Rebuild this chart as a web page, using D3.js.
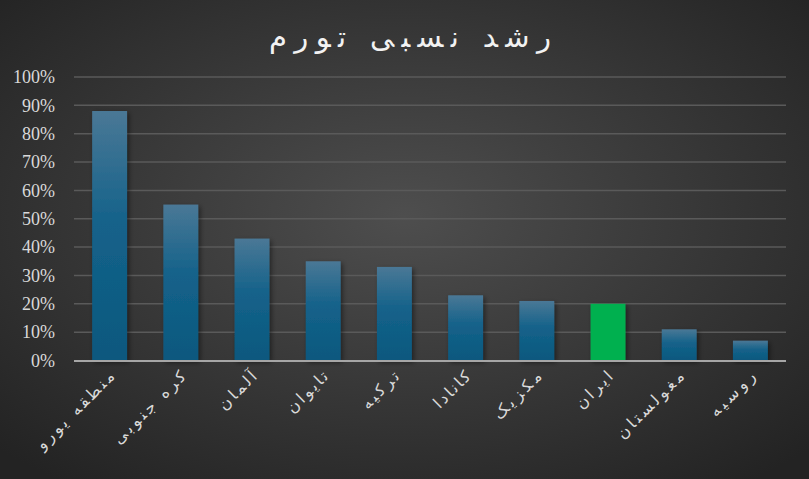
<!DOCTYPE html>
<html><head><meta charset="utf-8">
<script src="https://cdn.jsdelivr.net/npm/d3@7"></script>
<style>
html,body{margin:0;padding:0;background:#2a2a2a;}
svg{display:block;}
</style></head><body>
<svg id="c" width="809" height="479"></svg>
<script>
const categories = ["منطقه یورو","کره جنوبی","آلمان","تایوان","ترکیه","کانادا","مکزیک","ایران","مغولستان","روسیه"];
const values = [88, 55, 43, 35, 33, 23, 21, 20, 11, 7];
const highlight = ["ایران"];
const yTicks = [0,10,20,30,40,50,60,70,80,90,100];
const titleText = "رشد نسبی تورم";

const W = 809, H = 479;
const svg = d3.select("#c");
const defs = svg.append("defs");
const bg = defs.append("radialGradient").attr("id","bg").attr("cx","50%").attr("cy","45%").attr("r","70%");
bg.append("stop").attr("offset","0%").attr("stop-color","#4e4e4e");
bg.append("stop").attr("offset","100%").attr("stop-color","#232323");
const bar = defs.append("linearGradient").attr("id","bar").attr("x1",0).attr("x2",0).attr("y1",0).attr("y2",1);
bar.append("stop").attr("offset","0%").attr("stop-color","#4a7896");
bar.append("stop").attr("offset","45%").attr("stop-color","#14628a");
bar.append("stop").attr("offset","100%").attr("stop-color","#0b587e");
const sh = defs.append("filter").attr("id","sh").attr("x","-30%").attr("y","-10%").attr("width","160%").attr("height","130%");
sh.append("feDropShadow").attr("dx",2).attr("dy",2).attr("stdDeviation",2.5).attr("flood-color","#000").attr("flood-opacity",0.45);

svg.append("rect").attr("width",W).attr("height",H).attr("fill","url(#bg)");

const m = {l:74, r:786, t:77, b:360.5};
const x = d3.scaleBand().domain(categories).range([m.l, m.r]).paddingInner(0.51).paddingOuter(0.255);
const y = d3.scaleLinear().domain([0,100]).range([m.b, m.t]);

// grid
svg.append("g").selectAll("line").data(yTicks.filter(d=>d>0)).join("line")
  .attr("x1",m.l).attr("x2",m.r).attr("y1",d=>y(d)).attr("y2",d=>y(d))
  .attr("stroke","#5a5a5a").attr("stroke-width",1.5);

// y axis labels
const ya = svg.append("g").attr("transform",`translate(${m.l-16},0)`)
  .call(d3.axisLeft(y).tickValues(yTicks).tickFormat(d=>d+"%").tickSize(0));
ya.select(".domain").remove();
ya.selectAll("text").attr("fill","#d9d9d9").attr("font-family","Liberation Serif, serif").attr("font-size","18px");

// bars
svg.append("g").selectAll("rect").data(values).join("rect")
  .attr("x",(d,i)=>x(categories[i])).attr("width",x.bandwidth())
  .attr("y",d=>y(d)).attr("height",d=>y(0)-y(d))
  .attr("fill",(d,i)=>highlight.includes(categories[i])?"#00b050":"url(#bar)")
  .attr("filter","url(#sh)");

// baseline
svg.append("line").attr("x1",m.l).attr("x2",m.r).attr("y1",y(0)+0.5).attr("y2",y(0)+0.5)
  .attr("stroke","#a6a6a6").attr("stroke-width",2);

// x labels
const xa = svg.append("g").attr("transform",`translate(0,${m.b})`)
  .call(d3.axisBottom(x).tickSize(0).tickPadding(0));
xa.select(".domain").remove();
xa.selectAll("text")
  .attr("fill","#d9d9d9").attr("font-family","DejaVu Sans, sans-serif").attr("font-size","16px")
  .attr("text-anchor","end").attr("dy",0).attr("y",0)
  .attr("transform","translate(6,17) rotate(-45)")
  .each(function(){
    const L = this.getComputedTextLength();
    d3.select(this).attr("textLength", L*1.35).attr("lengthAdjust","spacing");
  });

// title
const t = svg.append("text").attr("x",410).attr("y",47).attr("text-anchor","middle")
  .attr("fill","#f2f2f2").attr("font-family","DejaVu Sans, sans-serif").attr("font-size","29px")
  .text(titleText);
t.attr("textLength",282).attr("lengthAdjust","spacing");
</script>
</body></html>
